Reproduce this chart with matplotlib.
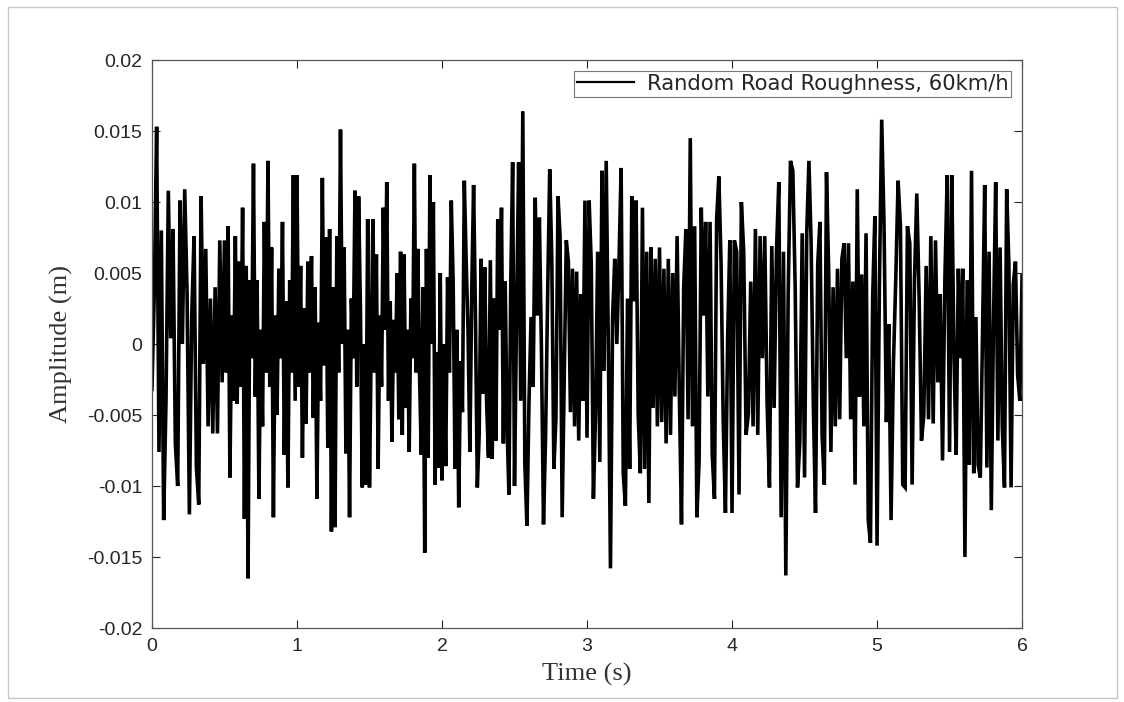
import numpy as np
import matplotlib.pyplot as plt
from matplotlib.patches import Rectangle

# amplitude extrema, in mm, one list per half second
seg_00 = [-3.2, 3.7, 15.3, -7.6, 8, -12.4, -4, 10.8, 0.4, 8.1, -7, -10, 10.1, 0, 10.9, 3.7,
          -12, 2, 7.6, -8.7, -11.3, 10.4, -1.4, 6.7, -5.8, 3.2, -6.3, 4, -6.3, 7.3, -2.7]
seg_05 = [7.3, -2, 8.3, -9.4, 2, -4, 7.6, -4.2, 5.8, -3, 9.6, -12.3, 5.5, -16.5, 4.5, -1, 12.7,
          -3.7, 4.5, -10.9, 1, -5.8, 8.6, -2, 12.9, -3, 6.8, -12.2, 2, -5, 5.3, -1, 8.6, -7.8,
          3, -10.1, 4.5, -2, 11.9, -4]
seg_10 = [11.9, -3, 5.5, -8, 2.5, -5.6, 5.8, -2, 6.2, -5.2, 4, -10.9, 1.5, -4, 11.7, -1.5, 7.5,
          -7.3, 8.1, -13.2, 4, -12.9, 7.6, -2, 15.1, 0, 6.8, -7.7, 1, -12.2, 3.2, -1, 10.8, -3,
          10.4, 2.4, -10.1, 0, -9.9, 8.8]
seg_15 = [-10.1, 0, 8.8, -2, 6.3, -8.8, 2, -3, 9.6, 1, 11.4, -4, 3, -6.9, 1.7, -2, 5, -5.3, 6.5,
          -6.4, 6.3, -4.5, 1, -7.6, 3.2, -1, 12.7, -2, 6.7, -2.2, -7.8, 4, -14.7, 6.7, -8, 11.9,
          0, 10, -9.9, -0.6, -8.7, 5]
seg_20 = [-9.6, 0, -8.6, 4.7, -2, 10.1, 4.4, -8.8, 1, -11.5, -1.2, -4.8, 11.5, 5.9, 0.9, -7.6,
          3.7, 11.2, 1.9, -10.1, -6.4, 6, -3.5, 5.4, -4.1, -8, 5.9, -8.1, 3.2, -6.8, 8.8, 1, 9.6,
          -7, 4.4, -5.8, -10.6, 4.4, 12.8]
seg_25 = [-10, 2, 12.8, -4, 16.4, -8.5, -12.8, -4, 1.9, -3, 10.3, 2, 8.9, -0.4, -12.7, -6.5,
          3.5, 12.3, 6, -8.8, -5.2, 10.4, 7.6, -12.2, -2.4, 7.3, 5.8, -4.8, 5.3, -5.8, 5.1, -6.8,
          3.5, -4, 10.1]
seg_30 = [-6.6, 10.1, 5.6, -10.9, -4.9, 6.5, -8.3, 12.2, -1.9, 12.9, -0.1, -15.8, 1.9, 6, 0,
          5.8, 12.4, -9.1, -11.4, 3.2, -8.8, 10.4, 3, 10.1, -4.9, -9.1, 9.6, -8.8, 6.5, -11.2,
          6.8, -4.5, 6, -5.8]
seg_35 = [6.8, -5.5, 5.3, -7, 6, -6.4, 5, -3.7, 7.6, -3.2, -12.7, 4, 8.1, -5.3, 14.5, -5.8, 8.3,
          -12.2, -8.3, 9.6, 2, 8.6, -3.7, 8.6, -7.8, -10.9, 8.8, 11.8, 5.8, -5.5, -11.9, 0.4, 7.3]
seg_40 = [-11.9, 7.3, 6.5, -10.6, 10, 6.5, -6.4, -4.9, 4.4, -5.8, 8.1, -6.4, 7.6, -1, 7.6, -4.2,
          -10.1, 6.9, -4.5, 6.5, 11.4, -12.2, 6.5, -16.3, 3.5, 12.9, 12.2, 4, -10.1, -6.8, 7.8]
seg_45 = [-9.4, 7.8, 12.9, 7.1, -4.2, -11.9, 5.6, 8.6, -6.4, -9.9, 12.1, 5, -7.6, 4, -5.8, 5.3,
          -5.3, 6, 7.1, -1, 7.1, -5.3, 4.4, -9.9, 10.9, -3.7, 4.9, -5.8, 7.8, -12.4, -14, 3.2, 9]
seg_50 = [-14.2, 4, 15.8, 8.3, -5.5, 1.4, -12.4, -1.4, 4.5, 11.5, 8.3, -9.9, -10.1, 8.3, 7.1,
          -9.9, 4.5, 10.6, 3.2, -6.8, -5, 5.5, -5.3, 7.6, -5.6, 7.3, -2.7, 3.5, -8.2, 4.5, 11.9]
seg_55 = [-7.6, 11.9, -0.6, -7.8, 5.3, -1, 5.3, -15, 4.5, -8.5, 12.2, -9.1, 1.9, -8.5, -9.4, 0.6,
          11.2, -8.7, 6.5, -11.7, 1.4, 11.4, -6.8, 6.8, -5.8, -10.1, 10.9, 5.6, -10.1, 4.2, 5.8,
          -2.2, -4, 4.8]

segments = [seg_00, seg_05, seg_10, seg_15, seg_20, seg_25,
            seg_30, seg_35, seg_40, seg_45, seg_50, seg_55]
seg_starts = [0, 0.5, 1.0, 1.5, 2.0, 2.5, 3.0, 3.5, 4.0, 4.5, 5.0, 5.5]
seg_len = 0.5

t_all = []
z_all = []
for i, (s0, seg) in enumerate(zip(seg_starts, segments)):
    last = (i == len(segments) - 1)
    t_all.append(np.linspace(s0, s0 + seg_len, len(seg), endpoint=last))
    z_all.append(np.array(seg) / 1000.0)
t = np.concatenate(t_all)
z = np.concatenate(z_all)

y_ticks = [-0.02, -0.015, -0.01, -0.005, 0, 0.005, 0.01, 0.015, 0.02]
y_labels = ["-0.02", "-0.015", "-0.01", "-0.005", "0", "0.005", "0.01", "0.015", "0.02"]
x_ticks = [0, 1, 2, 3, 4, 5, 6]

plt.rcParams['font.family'] = ['Liberation Sans', 'DejaVu Sans']

fig = plt.figure(figsize=(11.24, 7.02), dpi=100)
ax = fig.add_axes([0.1352, 0.1054, 0.7741, 0.8091])

ax.plot(t, z, color="black", lw=2.6, solid_joinstyle="miter",
        label="Random Road Roughness, 60km/h")

ax.set_xlim(0, 6)
ax.set_ylim(-0.02, 0.02)
ax.set_xticks(x_ticks)
ax.set_xticklabels([str(v) for v in x_ticks])
ax.set_yticks(y_ticks)
ax.set_yticklabels(y_labels)
ax.tick_params(direction="in", top=True, right=True, length=6, width=0.8,
               labelsize=14, colors="#262626", pad=7)
for sp in ax.spines.values():
    sp.set_color("#555555")
    sp.set_linewidth(0.9)

ax.set_xlabel("Time (s)", family=["Liberation Serif", "DejaVu Serif"], fontsize=19,
              color="#333333", labelpad=6)
ax.set_ylabel("Amplitude (m)", family=["Liberation Serif", "DejaVu Serif"], fontsize=19,
              color="#333333", labelpad=10)

leg = ax.legend(loc="upper right", prop={"family": "DejaVu Sans", "size": 15.2},
                frameon=True, fancybox=False, borderaxespad=0.5, handlelength=2.7,
                borderpad=0.15, handletextpad=0.6)
leg.get_frame().set_edgecolor("#555555")
leg.get_frame().set_linewidth(0.8)
leg.get_lines()[0].set_linewidth(1.6)
for txt in leg.get_texts():
    txt.set_color("#262626")

# thin grey frame around the whole picture
fig.patches.append(Rectangle((0.007, 0.006), 0.987, 0.984, transform=fig.transFigure,
                             fill=False, edgecolor="#c8c8c8", linewidth=1.0))

fig.savefig("out.png", dpi=100)
